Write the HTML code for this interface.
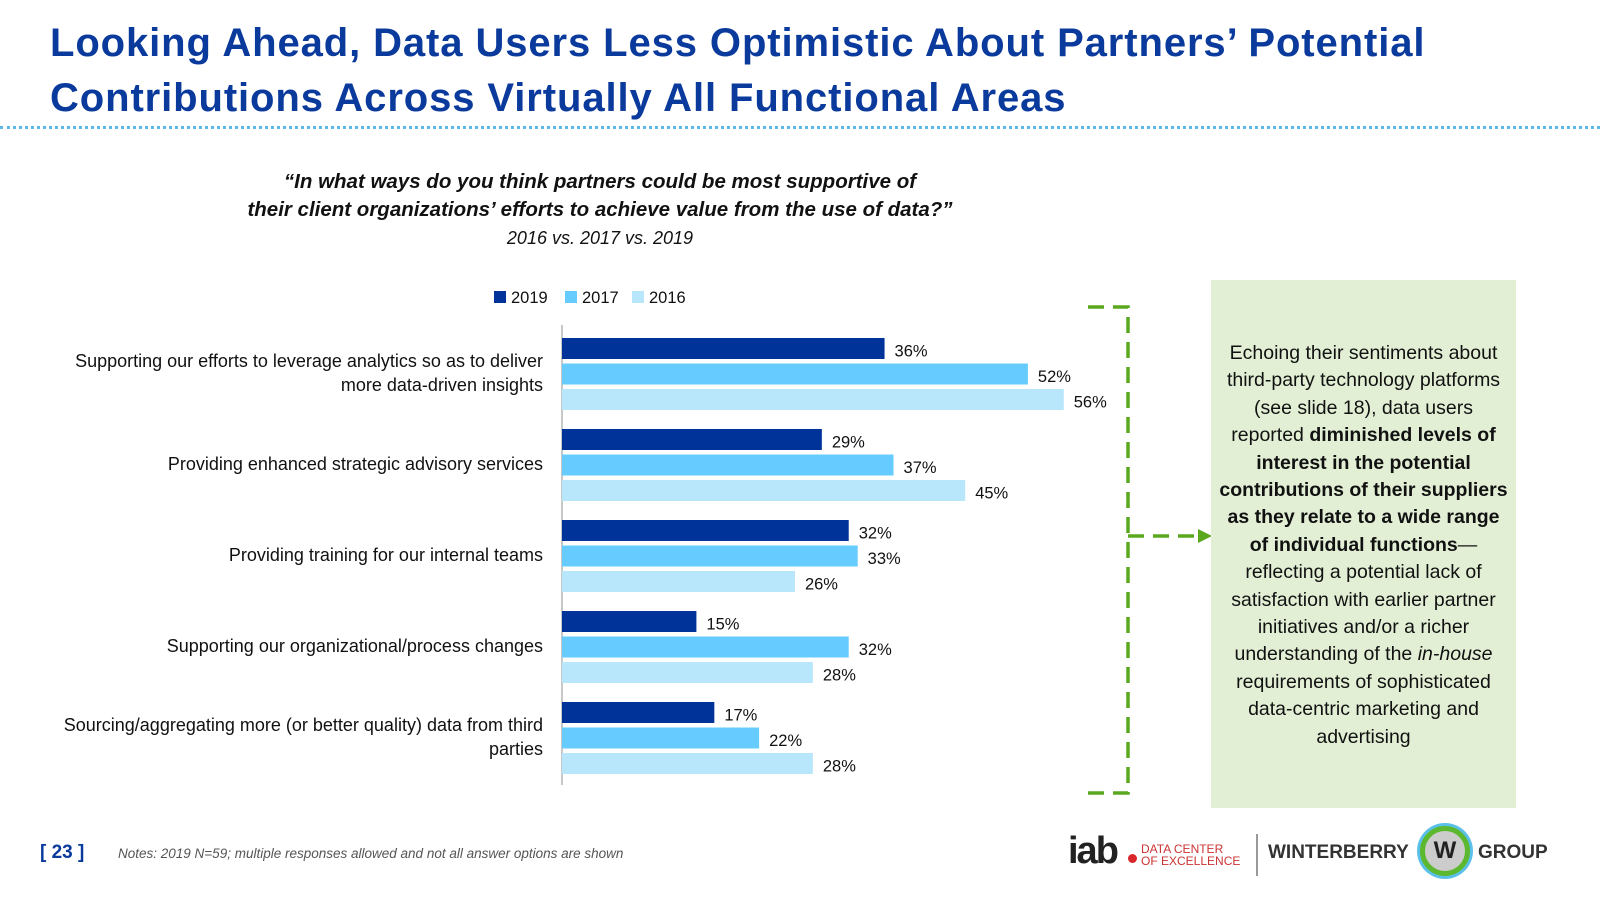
<!DOCTYPE html>
<html><head><meta charset="utf-8"><style>
body{margin:0;width:1600px;height:900px;background:#fff;font-family:"Liberation Sans",sans-serif;position:relative;overflow:hidden}
.abs{position:absolute}
#title{left:50px;top:16px;font-size:40px;font-weight:bold;color:#0a3a9c;line-height:55px;letter-spacing:0.9px;white-space:nowrap}
#rule{left:0;top:126px;width:1600px;border-top:3px dotted #5bb8e8}
#question{left:190px;width:820px;top:168px;text-align:center;font-size:20.5px;font-style:italic;font-weight:bold;color:#111;line-height:28px}
#sub{left:200px;width:800px;top:228px;text-align:center;font-size:18px;font-style:italic;color:#111}
.cat{position:absolute;right:1057px;width:540px;text-align:right;font-size:18px;color:#111;line-height:24px}
#box{left:1211px;top:280px;width:305px;height:528px;background:#e2efd5;font-size:19.5px;color:#111;text-align:center;line-height:27.4px;box-sizing:border-box;padding:60px 6px 0}
#foot{left:40px;top:842px;font-size:19px;color:#0a3a9c;font-weight:bold}
#notes{left:118px;top:846px;font-size:13.5px;font-style:italic;color:#555}
</style></head><body>
<div id="title" class="abs">Looking Ahead, Data Users Less Optimistic About Partners’ Potential<br>Contributions Across Virtually All Functional Areas</div>
<div id="rule" class="abs"></div>
<div id="question" class="abs">“In what ways do you think partners could be most supportive of<br>their client organizations’ efforts to achieve value from the use of data?”</div>
<div id="sub" class="abs">2016 vs. 2017 vs. 2019</div>
<div class="cat" style="top:349px">Supporting our efforts to leverage analytics so as to deliver<br>more data-driven insights</div>
<div class="cat" style="top:452px">Providing enhanced strategic advisory services</div>
<div class="cat" style="top:543px">Providing training for our internal teams</div>
<div class="cat" style="top:634px">Supporting our organizational/process changes</div>
<div class="cat" style="top:713px">Sourcing/aggregating more (or better quality) data from third<br>parties</div>
<svg class="abs" style="left:0;top:0" width="1600" height="900">
<g id="legend">
<rect x="494" y="291" width="12" height="12" fill="#003399"/><text x="511" y="303" font-size="16.5" fill="#111" font-family="Liberation Sans">2019</text>
<rect x="565" y="291" width="12" height="12" fill="#66ccff"/><text x="582" y="303" font-size="16.5" fill="#111" font-family="Liberation Sans">2017</text>
<rect x="632" y="291" width="12" height="12" fill="#b8e6fb"/><text x="649" y="303" font-size="16.5" fill="#111" font-family="Liberation Sans">2016</text>
</g>
<line x1="562" y1="325" x2="562" y2="785" stroke="#c8c8c8" stroke-width="2"/>
<g id="bars"></g>
<g stroke="#5aa81e" stroke-width="3.5" fill="none" stroke-dasharray="16,9">
<polyline points="1088,307 1128,307 1128,793 1088,793"/>
<line x1="1128" y1="536" x2="1198" y2="536"/>
</g>
<polygon points="1198,529 1212,536 1198,543" fill="#5aa81e"/>
</svg>
<div id="box" class="abs">Echoing their sentiments about third-party technology platforms (see slide 18), data users reported <b>diminished levels of interest in the potential contributions of their suppliers as they relate to a wide range of individual functions</b>—reflecting a potential lack of satisfaction with earlier partner initiatives and/or a richer understanding of the <i>in-house</i> requirements of sophisticated data-centric marketing and advertising</div>
<div id="foot" class="abs">[ 23 ]</div>
<div id="notes" class="abs">Notes: 2019 N=59; multiple responses allowed and not all answer options are shown</div>
<div class="abs" style="left:1068px;top:830px;width:480px;height:46px">
<span class="abs" style="left:0;top:0;font-size:38px;font-weight:bold;color:#222;letter-spacing:-2px">iab</span>
<span class="abs" style="left:60px;top:24px;width:9px;height:9px;border-radius:50%;background:#d8262a"></span>
<span class="abs" style="left:73px;top:13px;font-size:12px;color:#c33;line-height:12px">DATA CENTER<br>OF EXCELLENCE</span>
<span class="abs" style="left:188px;top:4px;width:2px;height:42px;background:#999"></span>
<span class="abs" style="left:200px;top:12px;font-size:19px;font-weight:bold;color:#333">WINTERBERRY</span>
<span class="abs" style="left:352px;top:-4px;width:40px;height:40px;border-radius:50%;background:#ccc;border:5px solid #5cb82e;box-shadow:0 0 0 3px #5bc0e8;text-align:center;line-height:40px;font-weight:bold;font-size:24px;color:#222">W</span>
<span class="abs" style="left:410px;top:12px;font-size:19px;font-weight:bold;color:#333">GROUP</span>
</div>
<script>
const categories=["Supporting our efforts to leverage analytics","Providing enhanced strategic advisory services","Providing training for our internal teams","Supporting our organizational/process changes","Sourcing/aggregating more data from third parties"];
const series=["2019","2017","2016"];
const values2019=[36,29,32,15,17];
const values2017=[52,37,33,32,22];
const values2016=[56,45,26,28,28];
const colors=["#003399","#66ccff","#b8e6fb"];
const x0=562, pxPer=8.96, groupTop=338, groupPitch=91, barPitch=25.5, barH=21;
function xScale(v){return v*pxPer;}
function yPos(ci,si){return groupTop+ci*groupPitch+si*barPitch;}
const g=document.getElementById('bars');
const ns="http://www.w3.org/2000/svg";
const all=[values2019,values2017,values2016];
all.forEach((vals,si)=>{vals.forEach((v,ci)=>{
 const r=document.createElementNS(ns,'rect');
 r.setAttribute('x',x0);r.setAttribute('y',yPos(ci,si));
 r.setAttribute('width',xScale(v));r.setAttribute('height',barH);r.setAttribute('fill',colors[si]);
 
 
 g.appendChild(r);
 const t=document.createElementNS(ns,'text');
 t.setAttribute('x',x0+xScale(v)+10);t.setAttribute('y',yPos(ci,si)+barH/2+8);
 t.setAttribute('font-size','16.5');t.setAttribute('fill','#111');t.setAttribute('font-family','Liberation Sans');
 t.textContent=v+'%';
 
 
 g.appendChild(t);
});});
</script>
</body></html>
